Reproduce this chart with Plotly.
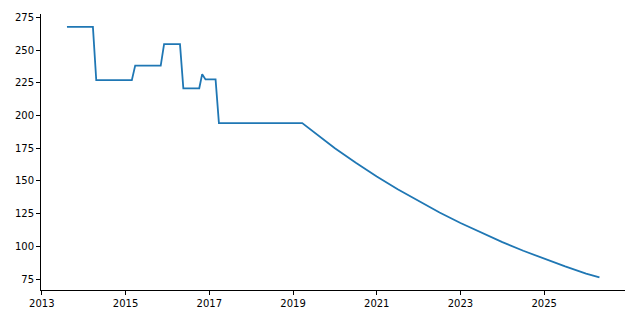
import plotly.graph_objects as go

# Decimal-year positions and values
years = [2013.60, 2014.22, 2014.30, 2015.15, 2015.23, 2015.84, 2015.92,
         2016.30, 2016.38, 2016.76, 2016.83, 2016.91, 2017.15, 2017.23,
         2019.22, 2019.60, 2020.00, 2020.50, 2021.00, 2021.50, 2022.00,
         2022.50, 2023.00, 2023.50, 2024.00, 2024.50, 2025.00, 2025.50,
         2026.00, 2026.32]
values = [267.7, 267.7, 227.0, 227.0, 238.2, 238.2, 254.5,
          254.5, 220.8, 220.8, 231.6, 227.6, 227.6, 194.2,
          194.2, 184.5, 175.0, 163.9, 153.4, 143.6, 134.4,
          125.8, 117.8, 110.2, 103.2, 96.6, 90.4, 84.6,
          79.2, 76.2]

x_ticks = [2013, 2015, 2017, 2019, 2021, 2023, 2025]
y_ticks = [75, 100, 125, 150, 175, 200, 225, 250, 275]

fig = go.Figure(go.Scatter(x=years, y=values, mode="lines",
                           line=dict(color="#1f77b4", width=1.8),
                           showlegend=False, hoverinfo="skip"))

axis_common = dict(showgrid=False, zeroline=False, showline=True,
                   linecolor="black", linewidth=1, ticks="outside",
                   ticklen=4, tickwidth=1, tickcolor="black",
                   tickfont=dict(family="DejaVu Sans", size=10, color="black"))

fig.update_layout(
    width=640, height=320,
    margin=dict(l=41, r=15, t=14, b=30),
    paper_bgcolor="white", plot_bgcolor="white",
    xaxis=dict(range=[2012.98, 2026.93], tickvals=x_ticks,
               ticktext=[str(t) for t in x_ticks], **axis_common),
    yaxis=dict(range=[66.6, 277.6], tickvals=y_ticks,
               ticktext=[str(t) for t in y_ticks], **axis_common),
)

fig.write_html("out.html")
